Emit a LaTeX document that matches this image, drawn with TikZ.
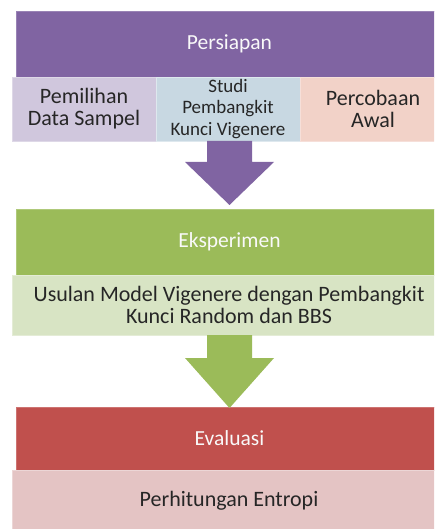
\documentclass[tikz,border=0pt]{standalone}
\usepackage{fontspec}
\setmainfont{Carlito}
\usetikzlibrary{calc}

\definecolor{ungu}{RGB}{128,100,162}
\definecolor{ungumuda}{RGB}{208,199,221}
\definecolor{birumuda}{RGB}{200,216,226}
\definecolor{oranyemuda}{RGB}{242,210,200}
\definecolor{hijau}{RGB}{155,187,89}
\definecolor{hijaumuda}{RGB}{216,228,196}
\definecolor{merah}{RGB}{192,80,77}
\definecolor{merahmuda}{RGB}{228,196,196}

\tikzset{
  headbox/.style={anchor=north west, inner sep=0pt, outer sep=0pt,
    minimum width=427pt, minimum height=66pt, text=white!95!gray,
    font=\fontsize{21.5}{24}\selectfont},
  subbox/.style={anchor=north west, inner sep=0pt, outer sep=0pt,
    minimum height=64pt, align=center, text=black!85,
    font=\fontsize{22}{22}\selectfont},
}

\begin{document}
\begin{tikzpicture}[x=1pt,y=-1pt]
        \clip (0,0) rectangle (434,529);

        % persiapan
        \node[headbox, fill=ungu, draw=ungu!80!white] (persiapan) at (16,11) {Persiapan};
        \node[subbox, fill=ungumuda, draw=ungumuda!70!white, minimum width=144pt] (pemilihan) at (12,77) {Pemilihan\\Data Sampel};
        \node[subbox, fill=birumuda, draw=birumuda!60!white, minimum width=144pt,
              font=\fontsize{19}{21.5}\selectfont] (studi) at (156,77) {Studi\\Pembangkit\\Kunci Vigenere};
        \node[subbox, fill=oranyemuda, draw=oranyemuda!70!white, minimum width=146pt] (percobaan) at (300,77) {Percobaan\\Awal};

        % eksperimen
        \node[headbox, fill=hijau, draw=hijau!80!white] (eksperimen) at (16,209) {Eksperimen};
        \node[subbox, fill=hijaumuda, draw=hijaumuda!70!white, minimum width=434pt, minimum height=60pt] (usulan) at (12,275) {Usulan Model Vigenere dengan Pembangkit\\Kunci Random dan BBS};

        % evaluasi
        \node[headbox, fill=merah, draw=merah!80!white, minimum height=63pt] (evaluasi) at (16,407) {Evaluasi};
        \node[subbox, fill=merahmuda, draw=merahmuda!70!white, minimum width=434pt, minimum height=62pt] (entropi) at (12,470) {Perhitungan Entropi};

        % arrow persiapan -> eksperimen
        \coordinate (a1) at (persiapan.south |- studi.south);
        \fill[ungu] ($(a1)+(-22.5,0)$) -- ($(a1)+(22.5,0)$) -- ($(a1)+(22.5,21)$) -- ($(a1)+(44.5,21)$)
            -- ($(eksperimen.north)+(0,-4)$) -- ($(a1)+(-44.5,21)$) -- ($(a1)+(-22.5,21)$) -- cycle;

        % arrow eksperimen -> evaluasi
        \coordinate (a2) at (eksperimen.south |- usulan.south);
        \fill[hijau] ($(a2)+(-22.5,0)$) -- ($(a2)+(22.5,0)$) -- ($(a2)+(22.5,23)$) -- ($(a2)+(44.5,23)$)
            -- ($(evaluasi.north)+(0,1)$) -- ($(a2)+(-44.5,23)$) -- ($(a2)+(-22.5,23)$) -- cycle;
    \end{tikzpicture}
\end{document}
